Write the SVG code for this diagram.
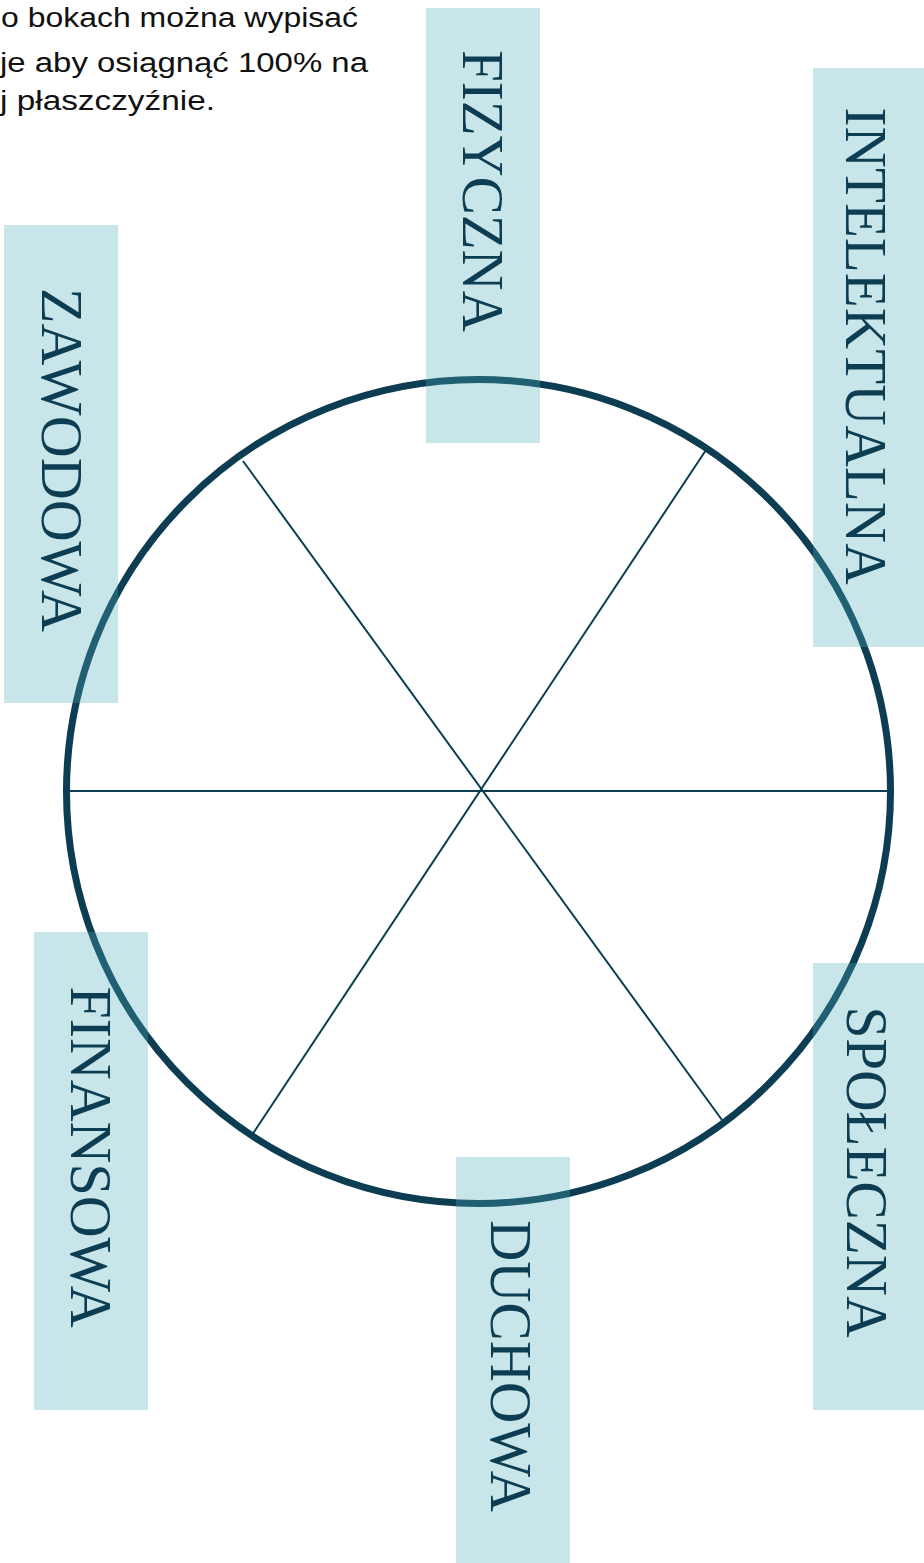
<svg xmlns="http://www.w3.org/2000/svg" width="924" height="1563" viewBox="0 0 924 1563">
<style>
.box{fill:#4fadbc;fill-opacity:0.31}
.lbl{font-family:"Liberation Serif","Times New Roman",serif;font-size:60px;fill:#0c3d52;text-anchor:middle}
.spoke{stroke:#0c3d52;stroke-width:2;fill:none}
.note{font-family:"Liberation Sans",Arial,sans-serif;font-size:27px;fill:#111}
</style>
<rect width="924" height="1563" fill="#ffffff"/>
<g id="note">
<text class="note" x="1" y="27" textLength="357" lengthAdjust="spacingAndGlyphs">o bokach można wypisać</text>
<text class="note" x="0" y="72" textLength="368" lengthAdjust="spacingAndGlyphs">je aby osiągnąć 100% na</text>
<text class="note" x="0" y="110" textLength="215" lengthAdjust="spacingAndGlyphs">j płaszczyźnie.</text>
</g>
<g id="wheel">
<circle cx="478.5" cy="791.5" r="412" fill="none" stroke="#0c3d52" stroke-width="7"/>
</g>
<g id="connectors">
<line class="spoke" x1="66" y1="791" x2="891" y2="791"/>
<line class="spoke" x1="243" y1="461" x2="722" y2="1120"/>
<line class="spoke" x1="706" y1="450" x2="252" y2="1135"/>
</g>
<g id="fizyczna">
<rect class="box" x="426" y="8" width="114" height="435"/>
<text class="lbl" transform="translate(483 191) rotate(90)" x="0" y="20" textLength="282" lengthAdjust="spacingAndGlyphs">FIZYCZNA</text>
</g>
<g id="intelektualna">
<rect class="box" x="813" y="68" width="111" height="579"/>
<text class="lbl" transform="translate(866 346) rotate(90)" x="0" y="20" textLength="477" lengthAdjust="spacingAndGlyphs">INTELEKTUALNA</text>
</g>
<g id="zawodowa">
<rect class="box" x="4" y="225" width="114" height="478"/>
<text class="lbl" transform="translate(62 460) rotate(90)" x="0" y="20" textLength="344" lengthAdjust="spacingAndGlyphs">ZAWODOWA</text>
</g>
<g id="finansowa">
<rect class="box" x="34" y="932" width="114" height="478"/>
<text class="lbl" transform="translate(91 1157) rotate(90)" x="0" y="20" textLength="341" lengthAdjust="spacingAndGlyphs">FINANSOWA</text>
</g>
<g id="duchowa">
<rect class="box" x="456" y="1157" width="114" height="406"/>
<text class="lbl" transform="translate(511 1366) rotate(90)" x="0" y="20" textLength="292" lengthAdjust="spacingAndGlyphs">DUCHOWA</text>
</g>
<g id="spoleczna">
<rect class="box" x="813" y="963" width="111" height="447"/>
<text class="lbl" transform="translate(867 1172) rotate(90)" x="0" y="20" textLength="331" lengthAdjust="spacingAndGlyphs">SPOŁECZNA</text>
</g>
</svg>
